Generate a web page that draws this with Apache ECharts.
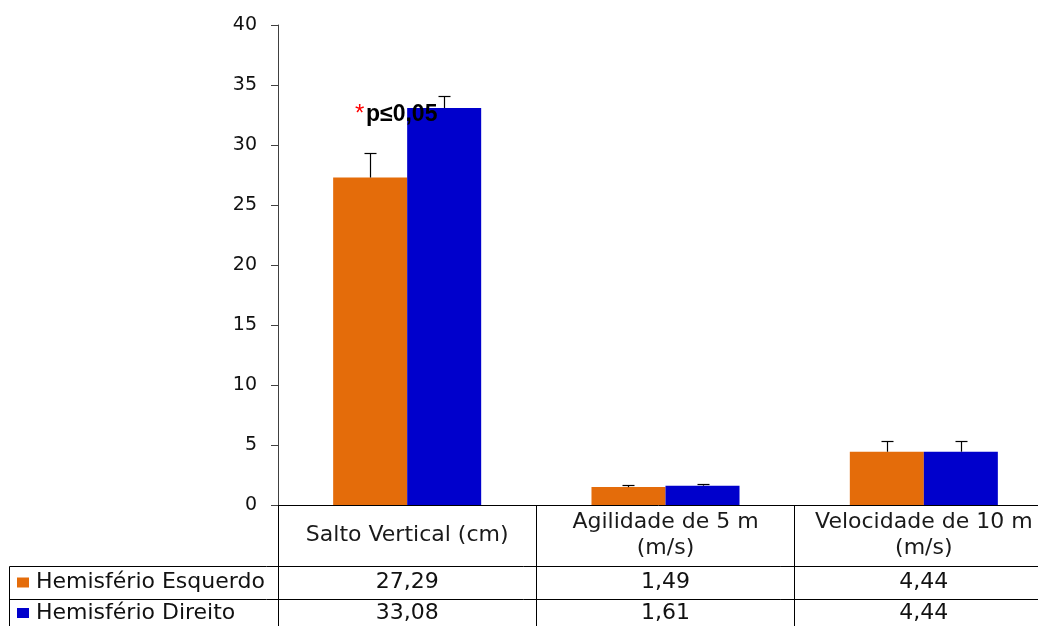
<!DOCTYPE html>
<html>
<head>
<meta charset="utf-8">
<script src="https://cdn.jsdelivr.net/npm/echarts@6/dist/echarts.min.js"></script>
<style>
  html, body { margin: 0; padding: 0; background: #fff; }
  #chart { width: 1038px; height: 626px; }
</style>
</head>
<body>
<div id="chart"></div>
<script>
// Data
const categories = ['Salto Vertical (cm)', 'Agilidade de 5 m\n(m/s)', 'Velocidade de 10 m\n(m/s)'];
const seriesNames = ['Hemisfério Esquerdo', 'Hemisfério Direito'];
const esquerdo = [27.29, 1.49, 4.44];
const direito = [33.08, 1.61, 4.44];
const esquerdoSD = [2.03, 0.2, 0.88];
const direitoSD = [0.97, 0.15, 0.88];
const yMin = 0, yMax = 40, yStep = 5;
const annotation = 'p≤0,05';

const COLORS = ['#E46C0A', '#0000CC'];
const CAT_GAP = 0.427; // share of a category left empty around the bar pair
const FONT = '"DejaVu Sans", sans-serif';

const fmt = (v) => v.toFixed(2).replace('.', ',');

const chart = echarts.init(document.getElementById('chart'), null, { renderer: 'canvas' });

// Error bar drawn from the bar top upwards, side: -1 left bar, +1 right bar
const errorBar = (side) => (params, api) => {
    const i = api.value(0);
    const v = api.value(1);
    const sd = api.value(2);
    const band = api.size([1, 0])[0];
    const bw = band * (1 - CAT_GAP) / 2;
    const base = api.coord([i, v]);
    const top = api.coord([i, v + sd]);
    const x = Math.round(base[0] + side * bw / 2) + 0.5;
    const yt = Math.round(top[1]) + 0.5;
    const style = { stroke: '#000', lineWidth: 1.2 };
    return {
        type: 'group',
        children: [
            { type: 'line', shape: { x1: x, y1: base[1], x2: x, y2: yt }, style },
            { type: 'line', shape: { x1: x - 6, y1: yt, x2: x + 6, y2: yt }, style },
        ],
    };
};

chart.setOption({
    backgroundColor: '#fff',
    animation: false,
    grid: { left: 278, top: 25, width: 775, height: 480, containLabel: false, outerBoundsMode: 'none' },
    xAxis: {
        type: 'category',
        data: categories,
        axisLine: { lineStyle: { color: '#000', width: 1 } },
        axisTick: { show: true, interval: 0, length: 125, lineStyle: { color: '#000', width: 1 } },
        axisLabel: {
            interval: 0,
            margin: 30,
            verticalAlign: 'middle',
            lineHeight: 26,
            color: '#1a1a1a',
            fontSize: 22,
            fontFamily: FONT,
        },
        splitLine: { show: false },
    },
    yAxis: {
        type: 'value',
        min: yMin,
        max: yMax,
        interval: yStep,
        axisLine: { show: true, lineStyle: { color: '#404040', width: 1 } },
        axisTick: { show: true, length: 7, lineStyle: { color: '#404040' } },
        axisLabel: { margin: 21, color: '#111', fontSize: 19, fontFamily: FONT },
        splitLine: { show: false },
    },
    series: [
        {
            name: seriesNames[0],
            type: 'bar',
            data: esquerdo,
            barGap: '0%',
            barCategoryGap: (CAT_GAP * 100) + '%',
            itemStyle: { color: COLORS[0] },
            silent: true,
        },
        {
            name: seriesNames[1],
            type: 'bar',
            data: direito,
            barGap: '0%',
            barCategoryGap: (CAT_GAP * 100) + '%',
            itemStyle: { color: COLORS[1] },
            silent: true,
        },
        {
            type: 'custom',
            renderItem: errorBar(-1),
            data: esquerdo.map((v, i) => [i, v, esquerdoSD[i]]),
            encode: { x: 0, y: 1 },
            z: 5,
            silent: true,
        },
        {
            type: 'custom',
            renderItem: errorBar(1),
            data: direito.map((v, i) => [i, v, direitoSD[i]]),
            encode: { x: 0, y: 1 },
            z: 5,
            silent: true,
        },
    ],
});

// Data table under the axis, columns taken from the category positions
const rowTop = [566.5, 599.5];
const rowMid = [582.5, 613];
const tableLeft = 9.5;
const rows = [esquerdo, direito];
const graphic = [];

rowTop.forEach((y) => {
    graphic.push({ type: 'line', shape: { x1: tableLeft, y1: y, x2: 1038, y2: y }, style: { stroke: '#000', lineWidth: 1 }, silent: true });
});
graphic.push({ type: 'line', shape: { x1: tableLeft, y1: rowTop[0], x2: tableLeft, y2: 626 }, style: { stroke: '#000', lineWidth: 1 }, silent: true });

rows.forEach((vals, r) => {
    graphic.push({
        type: 'rect',
        shape: { x: 17, y: rowMid[r] - 5, width: 12, height: 10 },
        style: { fill: COLORS[r] },
        silent: true,
    });
    graphic.push({
        type: 'text',
        x: 36, y: rowMid[r],
        style: { text: seriesNames[r], font: '22px ' + FONT, fill: '#111', verticalAlign: 'middle', align: 'left' },
        silent: true,
    });
    vals.forEach((v, i) => {
        const x = chart.convertToPixel({ xAxisIndex: 0 }, i);
        graphic.push({
            type: 'text',
            x, y: rowMid[r],
            style: { text: fmt(v), font: '22px ' + FONT, fill: '#111', verticalAlign: 'middle', align: 'center' },
            silent: true,
        });
    });
});

// Significance note over the first group
graphic.push({
    type: 'text', x: 355, y: 114,
    style: { text: '*', font: '24px "Liberation Sans", Arial, sans-serif', fill: '#FF0000', verticalAlign: 'middle', align: 'left' },
    silent: true, z: 10,
});
graphic.push({
    type: 'text', x: 366, y: 114.5,
    style: { text: annotation, font: 'bold 23px "Liberation Sans", Arial, sans-serif', fill: '#000', verticalAlign: 'middle', align: 'left' },
    silent: true, z: 10,
});

chart.setOption({ graphic });
</script>
</body>
</html>
